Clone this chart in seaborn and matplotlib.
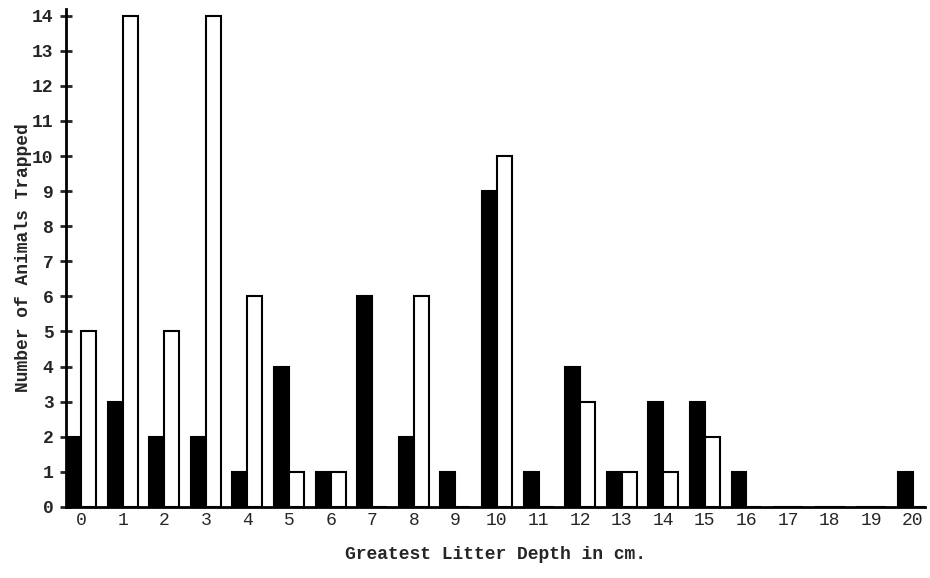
import matplotlib
matplotlib.use("Agg")
import matplotlib.pyplot as plt
import seaborn as sns
import pandas as pd

depths = [str(i) for i in range(21)]
black_counts = [2, 3, 2, 2, 1, 4, 1, 6, 2, 1, 9, 1, 4, 1, 3, 3, 1, 0, 0, 0, 1]
white_counts = [5, 14, 5, 14, 6, 1, 1, 0, 6, 0, 10, 0, 3, 1, 1, 2, 0, 0, 0, 0, 0]
y_ticks = list(range(15))

df = pd.DataFrame({
    "depth": depths * 2,
    "count": black_counts + white_counts,
    "group": ["A"] * len(depths) + ["B"] * len(depths),
})

sns.set_style("white")
plt.rcParams["font.family"] = ["Liberation Mono", "DejaVu Sans Mono"]

fig = plt.figure(figsize=(9.3, 5.78), dpi=100)
ax = fig.add_axes([0.071, 0.123, 0.924, 0.862])

sns.barplot(data=df, x="depth", y="count", hue="group", order=depths,
            palette={"A": "black", "B": "white"}, edgecolor="black",
            linewidth=1.5, width=0.72, legend=False, ax=ax, saturation=1)

ax.set_xlim(-0.36, 20.3)
ax.set_ylim(0, 14.2)
ax.set_yticks(y_ticks)
ax.set_yticklabels([str(v) for v in y_ticks], fontsize=13, fontweight="bold")
ax.tick_params(axis="y", direction="inout", length=8, width=2, pad=5, left=True)
ax.tick_params(axis="x", length=0, pad=4, labelsize=13)
for s in ["top", "right"]:
    ax.spines[s].set_visible(False)
for s in ["left", "bottom"]:
    ax.spines[s].set_linewidth(2)
    ax.spines[s].set_color("black")

ax.set_xlabel("Greatest Litter Depth in cm.", fontsize=13, fontweight="bold", labelpad=12)
ax.set_ylabel("Number of Animals Trapped", fontsize=13, fontweight="bold", labelpad=0)

fig.savefig("out.png", dpi=100)
